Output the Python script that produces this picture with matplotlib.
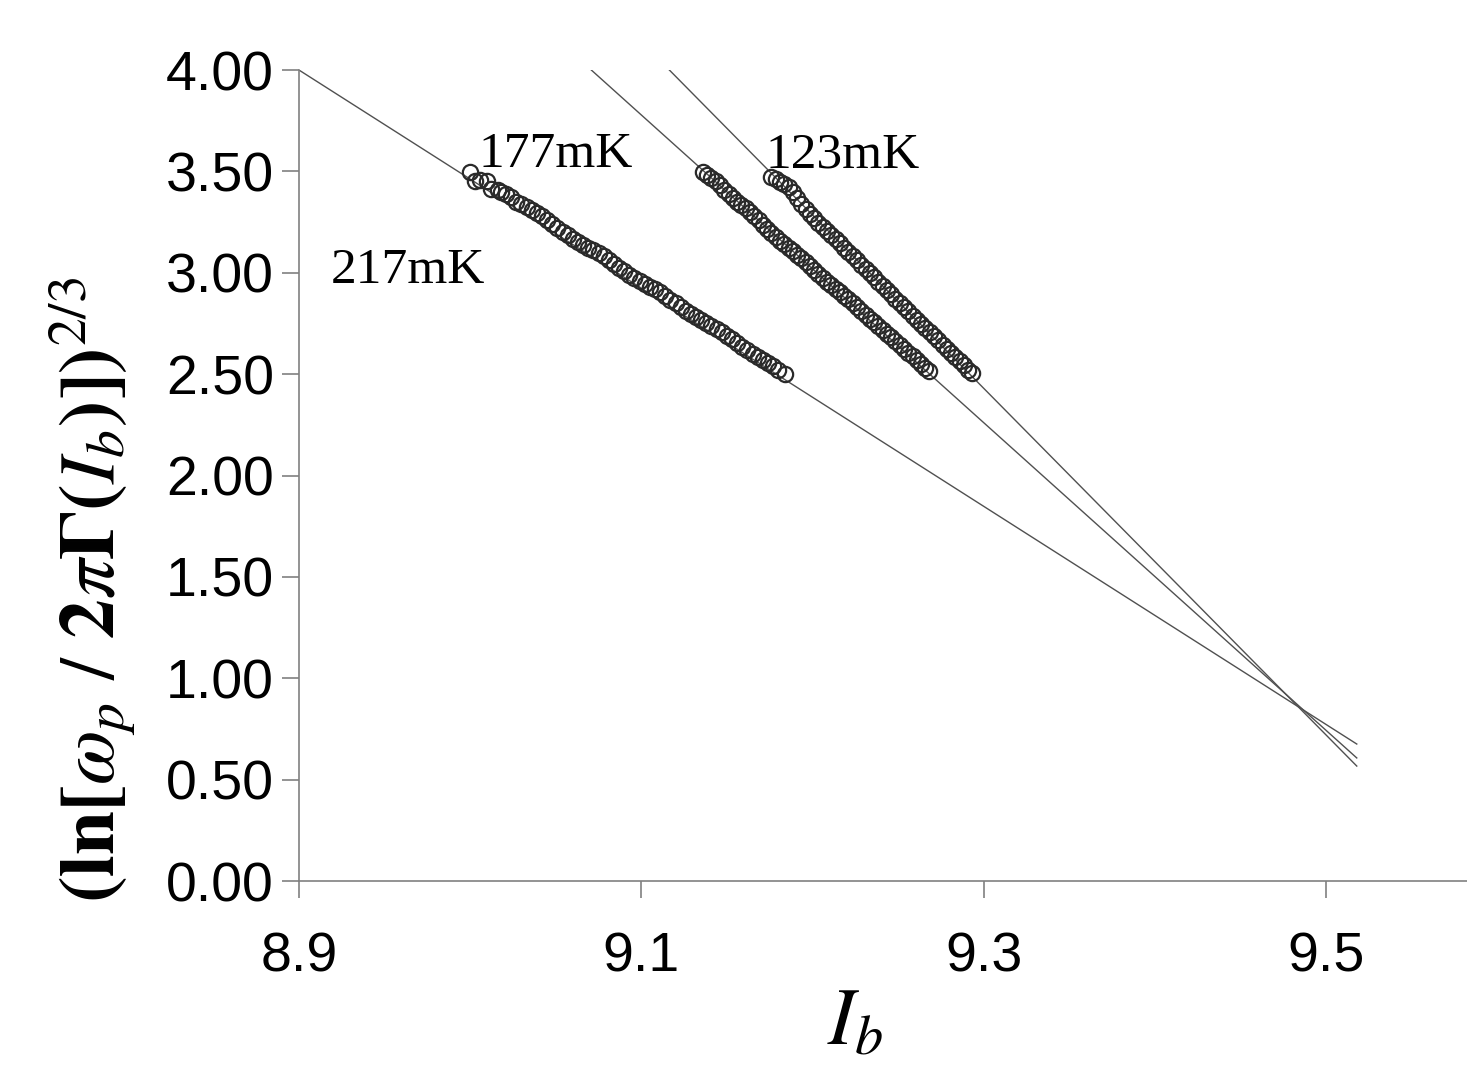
import matplotlib
matplotlib.use("Agg")
from matplotlib import pyplot as plt
import numpy as np

# datos: I_b y (ln[w_p/2pi Gamma])^(2/3)
x_217 = [9.000, 9.003, 9.006, 9.010, 9.012, 9.016, 9.018, 9.021, 9.024, 9.027,
         9.030, 9.033, 9.036, 9.039, 9.042, 9.045, 9.048, 9.051, 9.054, 9.057,
         9.060, 9.063, 9.066, 9.069, 9.072, 9.075, 9.078, 9.081, 9.084, 9.087,
         9.090, 9.093, 9.096, 9.099, 9.102, 9.105, 9.108, 9.111, 9.114, 9.117,
         9.120, 9.123, 9.126, 9.129, 9.132, 9.135, 9.138, 9.141, 9.144, 9.147,
         9.150, 9.153, 9.156, 9.159, 9.162, 9.165, 9.168, 9.171, 9.174, 9.177,
         9.180, 9.184]
y_217 = [3.497, 3.453, 3.458, 3.453, 3.413, 3.409, 3.400, 3.390, 3.372, 3.350,
         3.338, 3.325, 3.312, 3.296, 3.278, 3.262, 3.241, 3.222, 3.203, 3.186,
         3.168, 3.150, 3.136, 3.124, 3.111, 3.097, 3.081, 3.063, 3.045, 3.026,
         3.008, 2.990, 2.975, 2.960, 2.946, 2.932, 2.918, 2.903, 2.886, 2.868,
         2.850, 2.831, 2.813, 2.796, 2.780, 2.765, 2.751, 2.737, 2.722, 2.706,
         2.689, 2.671, 2.653, 2.635, 2.618, 2.601, 2.586, 2.571, 2.556, 2.540,
         2.522, 2.500]

x_177 = [9.1360, 9.1385, 9.1410, 9.1435, 9.1460, 9.1485, 9.1510, 9.1535, 9.1560, 9.1585,
         9.1610, 9.1635, 9.1660, 9.1685, 9.1710, 9.1735, 9.1760, 9.1785, 9.1810, 9.1835,
         9.1860, 9.1885, 9.1910, 9.1935, 9.1960, 9.1985, 9.2010, 9.2035, 9.2060, 9.2085,
         9.2110, 9.2135, 9.2160, 9.2185, 9.2210, 9.2235, 9.2260, 9.2285, 9.2310, 9.2335,
         9.2360, 9.2385, 9.2410, 9.2435, 9.2460, 9.2485, 9.2510, 9.2535, 9.2560, 9.2585,
         9.2610, 9.2635, 9.2660, 9.2680]
y_177 = [3.497, 3.482, 3.468, 3.452, 3.432, 3.410, 3.388, 3.368, 3.350, 3.334,
         3.318, 3.300, 3.280, 3.259, 3.238, 3.218, 3.198, 3.177, 3.158, 3.140,
         3.123, 3.107, 3.090, 3.073, 3.055, 3.035, 3.015, 2.995, 2.975, 2.956,
         2.938, 2.921, 2.904, 2.887, 2.869, 2.850, 2.830, 2.811, 2.792, 2.773,
         2.755, 2.737, 2.719, 2.700, 2.681, 2.662, 2.643, 2.624, 2.606, 2.588,
         2.570, 2.551, 2.532, 2.516]

x_123 = [9.1760, 9.1785, 9.1810, 9.1835, 9.1860, 9.1885, 9.1910, 9.1935, 9.1960, 9.1985,
         9.2010, 9.2035, 9.2060, 9.2085, 9.2110, 9.2135, 9.2160, 9.2185, 9.2210, 9.2235,
         9.2260, 9.2285, 9.2310, 9.2335, 9.2360, 9.2385, 9.2410, 9.2435, 9.2460, 9.2485,
         9.2510, 9.2535, 9.2560, 9.2585, 9.2610, 9.2635, 9.2660, 9.2685, 9.2710, 9.2735,
         9.2760, 9.2785, 9.2810, 9.2835, 9.2860, 9.2885, 9.2910, 9.2930]
y_123 = [3.472, 3.462, 3.447, 3.440, 3.421, 3.396, 3.368, 3.340, 3.315, 3.290,
         3.268, 3.247, 3.226, 3.205, 3.185, 3.165, 3.145, 3.124, 3.103, 3.082,
         3.061, 3.040, 3.019, 2.998, 2.977, 2.956, 2.936, 2.915, 2.894, 2.873,
         2.852, 2.831, 2.810, 2.789, 2.768, 2.748, 2.728, 2.708, 2.688, 2.667,
         2.646, 2.626, 2.605, 2.584, 2.564, 2.543, 2.522, 2.505]

# rectas de ajuste: pendiente, valor en I_b=9.5, tramo dibujado
pendientes = [-5.379, -7.587, -8.548]
y_en_95 = [0.7726, 0.7437, 0.721]
x_ini = [8.9, 9.0708, 9.1164]
x_fin = 9.518

etiquetas = ["217mK", "177mK", "123mK"]
pos_etiquetas = [(8.9187, 2.95), (9.0046, 3.52), (9.1728, 3.52)]

xticks = [8.9, 9.1, 9.3, 9.5]
yticks = [0.0, 0.5, 1.0, 1.5, 2.0, 2.5, 3.0, 3.5, 4.0]

plt.rcParams["font.family"] = ["Liberation Sans", "DejaVu Sans"]
plt.rcParams["mathtext.fontset"] = "stix"

fig = plt.figure(figsize=(14.67, 10.66), dpi=100)
ax = fig.add_axes([0.2038, 0.1735, 0.7962, 0.7608])

# rectas
for m, y95, x0 in zip(pendientes, y_en_95, x_ini):
    xs = np.array([x0, x_fin])
    ax.plot(xs, y95 + m * (xs - 9.5), color="#505050", lw=1.0, zorder=2)

# puntos
for xs, ys in [(x_217, y_217), (x_177, y_177), (x_123, y_123)]:
    ax.plot(xs, ys, ls="none", marker="o", ms=11, mfc="none",
            mec="#2a2a2a", mew=1.6, zorder=3)

for txt, (tx, ty) in zip(etiquetas, pos_etiquetas):
    ax.text(tx, ty, txt, fontsize=37, family="Liberation Serif",
            va="baseline", ha="left")

ax.set_xlim(8.9, 9.5824)
ax.set_ylim(0, 4.0)
ax.set_xticks(xticks)
ax.set_xticklabels([f"{v:.1f}" for v in xticks])
ax.set_yticks(yticks)
ax.set_yticklabels([f"{v:.2f}" for v in yticks])

for s in ["top", "right"]:
    ax.spines[s].set_visible(False)
for s in ["left", "bottom"]:
    ax.spines[s].set_color("#808080")
    ax.spines[s].set_linewidth(1.2)

ax.tick_params(axis="both", direction="out", length=12, width=1.2,
               color="#808080", labelsize=40)
ax.tick_params(axis="x", pad=24)
ax.tick_params(axis="y", pad=6)

fig.text(0.063, 1 - 590 / 1066,
         r"$\mathbf{(ln[}\omega_p\ /\ \mathbf{2}\pi\mathbf{\Gamma(}I_b\mathbf{)])}^{2/3}$",
         fontsize=57, rotation=90, ha="center", va="center")
fig.text(0.583, 0.004, r"$I_b$", fontsize=58, ha="center", va="bottom")

fig.savefig("out.png", dpi=100)
